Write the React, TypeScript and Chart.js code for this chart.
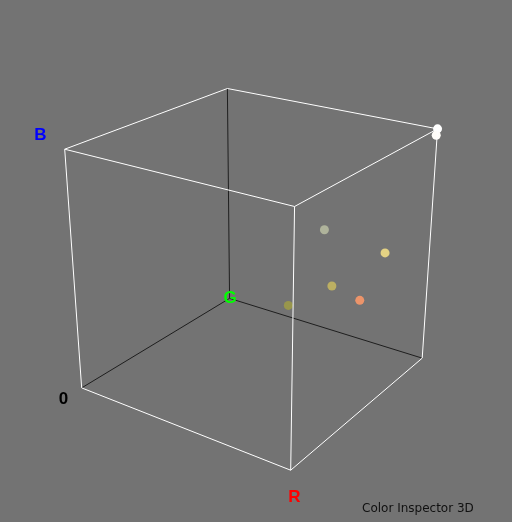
import React, { useRef, useEffect } from 'react';
import { Chart, registerables } from 'chart.js';

Chart.register(...registerables);

// colour cube corners (r, g, b) and the edges between them
const cornerR = [0, 255, 0, 0, 255, 255, 0, 255];
const cornerG = [0, 0, 255, 0, 255, 0, 255, 255];
const cornerB = [0, 0, 0, 255, 0, 255, 255, 255];
const backEdges = [[0, 2], [2, 4], [2, 6]];
const frontEdges = [[0, 1], [0, 3], [1, 4], [1, 5], [3, 5], [3, 6], [4, 7], [5, 7], [6, 7]];

// inspected colours
const pointR = [175, 228, 188, 236, 152, 255, 255];
const pointG = [179, 210, 175, 148, 150, 255, 253];
const pointB = [155, 132, 98, 106, 76, 255, 249];

const axisLabels = ['0', 'R', 'G', 'B'];
const axisLabelColors = ['#000000', '#ff0000', '#00ff00', '#0000ff'];
const title = 'Color Inspector 3D';

// view
const W = 512;
const H = 522;
const theta = (35 * Math.PI) / 180;
const phi = (24 * Math.PI) / 180;
const viewScale = 260;
const viewDist = 4.5;
const cx = 256;
const cy = 261;

const project = (r: number, g: number, b: number) => {
  const p = [r / 255 - 0.5, g / 255 - 0.5, b / 255 - 0.5];
  const X = Math.cos(theta) * p[0] + Math.sin(theta) * p[1];
  const Y = -Math.sin(theta) * Math.sin(phi) * p[0] + Math.cos(theta) * Math.sin(phi) * p[1] + Math.cos(phi) * p[2];
  const Z = Math.sin(theta) * Math.cos(phi) * p[0] - Math.cos(theta) * Math.cos(phi) * p[1] + Math.sin(phi) * p[2];
  const k = viewDist / (viewDist - Z);
  return { x: cx + viewScale * X * k, y: cy - viewScale * Y * k };
};

const corner = (i: number) => project(cornerR[i], cornerG[i], cornerB[i]);

const labelPlugin = {
  id: 'cubeLabels',
  afterDraw: (chart: Chart) => {
    const ctx = chart.ctx;
    ctx.save();
    ctx.textAlign = 'center';
    ctx.textBaseline = 'middle';
    ctx.font = 'bold 17px "Liberation Sans", sans-serif';
    const offsets = [[-15, 9], [3, 23], [1, -1], [-21, -12]];
    [0, 1, 2, 3].forEach((ci, i) => {
      const c = corner(ci);
      ctx.fillStyle = axisLabelColors[i];
      ctx.fillText(axisLabels[i], c.x + offsets[i][0], c.y + offsets[i][1]);
    });
    ctx.font = '12px "DejaVu Sans", sans-serif';
    ctx.textAlign = 'left';
    ctx.textBaseline = 'alphabetic';
    ctx.fillStyle = '#111111';
    ctx.fillText(title, 362, 512);
    ctx.restore();
  },
};

const App: React.FC = () => {
  const chartRef = useRef<HTMLCanvasElement>(null);
  const chartInstance = useRef<Chart | null>(null);

  useEffect(() => {
    if (!chartRef.current) return;
    if (chartInstance.current) chartInstance.current.destroy();

    const edgeSet = (e: number[], color: string, order: number) => ({
      type: 'line' as const,
      data: [corner(e[0]), corner(e[1])],
      borderColor: color,
      borderWidth: 1,
      pointRadius: 0,
      showLine: true,
      fill: false,
      order,
    });

    const dots = pointR.map((r, i) => project(r, pointG[i], pointB[i]));
    const dotColors = pointR.map((r, i) => `rgb(${r}, ${pointG[i]}, ${pointB[i]})`);

    chartInstance.current = new Chart(chartRef.current, {
      type: 'scatter',
      data: {
        datasets: [
          ...frontEdges.map(e => edgeSet(e, '#ffffff', 1)),
          {
            type: 'scatter' as const,
            data: dots,
            backgroundColor: dotColors,
            borderWidth: 0,
            pointRadius: 4.5,
            order: 2,
          },
          ...backEdges.map(e => edgeSet(e, '#1e1e1e', 3)),
        ] as any,
      },
      options: {
        responsive: false,
        animation: false,
        layout: { padding: 0 },
        plugins: { legend: { display: false }, tooltip: { enabled: false } },
        scales: {
          x: { type: 'linear', min: 0, max: W, display: false },
          y: { type: 'linear', min: 0, max: H, reverse: true, display: false },
        },
      },
      plugins: [labelPlugin],
    });

    return () => {
      if (chartInstance.current) {
        chartInstance.current.destroy();
        chartInstance.current = null;
      }
    };
  }, []);

  return (
    <div style={{ position: 'fixed', left: 0, top: 0, width: W, height: H, background: '#737373' }}>
      <canvas ref={chartRef} width={W} height={H} style={{ display: 'block' }} />
    </div>
  );
};

export default App;
